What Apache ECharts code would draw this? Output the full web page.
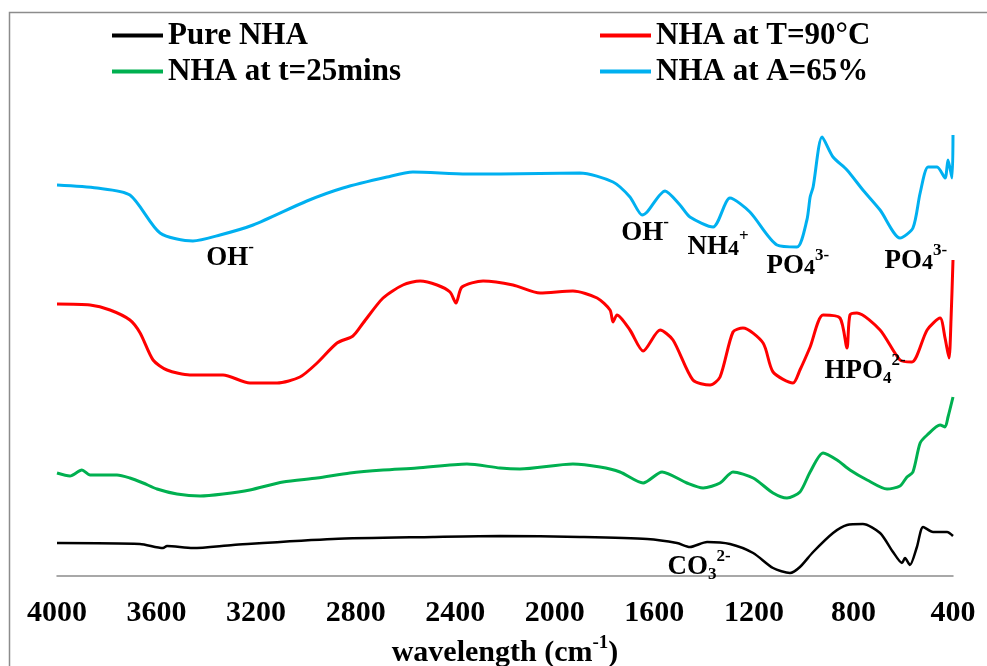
<!DOCTYPE html>
<html>
<head>
<meta charset="utf-8">
<script src="https://cdn.jsdelivr.net/npm/echarts@6/dist/echarts.min.js"></script>
<style>html,body{margin:0;padding:0;background:#fff;}#c{width:987px;height:666px;}</style>
</head>
<body>
<div id="c"></div>
<script>
// Wavenumbers (cm-1) and relative transmittance (arbitrary offset units)
const pureWn  = [4000,3667,3574,3558,3454,3293,2891,2489,2220,1899,1629,1509,1457,1388,1296,1203,1123,1055,1015,962,882,826,762,693,641,605,593,573,545,520,480,424,400];
const pureVal = [8.25,8,7,7.5,7,7.75,9.25,9.75,10,9.75,9.25,8.25,7.25,8.5,8,5.75,2,0.75,2.25,6,10.75,12.75,13,10.75,6,3.25,4.5,2.75,7.25,12.25,11,11,10];

const tempWn  = [4000,3867,3787,3707,3666,3614,3558,3466,3333,3225,3116,3024,2955,2875,2811,2770,2690,2610,2541,2473,2421,2397,2373,2288,2168,2059,1927,1830,1778,1766,1750,1698,1645,1577,1525,1445,1376,1336,1284,1244,1163,1123,1043,1015,974,922,854,826,814,786,693,613,565,504,452,432,416,408,400];
const tempVal = [68,67.75,66.5,64,60.75,54,51.5,50.25,50.25,48.25,48.25,49.75,53.25,58.25,60,63.25,69.5,72.75,73.75,72.75,71,68.25,72.25,73.75,72.75,70.75,71.25,69.5,66.5,63.5,65.25,61.5,56.25,61.5,59,49,47.75,49.75,61,62,58.25,51,48.25,51.5,57.25,65.25,64.5,57,65.25,65.75,61.5,54,53.5,61.5,64.5,59.5,54.5,64,79];

const timeWn  = [4000,3948,3900,3867,3759,3707,3654,3598,3518,3425,3333,3225,3092,2955,2823,2690,2554,2353,2220,2140,1927,1818,1738,1645,1569,1469,1404,1336,1284,1203,1123,1067,1015,974,922,866,814,745,665,613,585,561,532,504,452,432,420,400];
const timeVal = [25.75,25,26.5,25.25,25.25,24.5,23.25,21.75,20.5,20,20.5,21.5,23.5,24.5,25.75,26.5,27,28,27,26.75,28,27.25,26,23.25,26,23.25,22,23.25,26,24.5,20.75,19.5,21,26,30.75,29,26.5,24,21.75,22.5,24.75,26,33.25,35.25,37.75,37.25,39.75,44.75];

const acidWn  = [4000,3839,3707,3586,3454,3345,3212,2996,2851,2674,2570,2353,2220,1899,1766,1698,1649,1629,1557,1497,1457,1364,1296,1216,1107,1027,987,974,962,926,882,826,762,693,613,561,532,500,464,432,420,404,400];
const acidVal = [97.75,97,95.25,85.75,83.75,85.25,87.75,93.75,97,99.75,101,100.5,100.5,100.75,98.5,94.75,90.25,91,96.25,92.75,89.75,87.25,94.5,91,82.75,82.25,89,94.75,97.25,109.75,104.75,101.5,96.5,91.5,84.5,87,95.75,102.25,102.25,99.5,104,99.5,110.25];

const seriesNames = ['Pure NHA', 'NHA at T=90°C', 'NHA at t=25mins', 'NHA at A=65%'];
const xTicks = [4000, 3600, 3200, 2800, 2400, 2000, 1600, 1200, 800, 400];

// Band annotations
const noteWn   = [3305, 1637, 1344, 1023, 549, 753, 1420];
const noteVal  = [79.5, 85.75, 82.25, 77.5, 78.75, 51.25, 2.25];
const noteText = ['{b|OH}{sup|-}', '{b|OH}{sup|-}', '{b|NH}{m|4}{sup|+}', '{b|PO}{m|4}{sup|3-}', '{b|PO}{m|4}{sup|3-}', '{b|HPO}{sub|4}{sup|2-}', '{b|CO}{sub|3}{sup|2-}'];

const FONT = 'Liberation Serif';
const pairs = (w, v) => w.map((x, i) => [x, v[i]]);

const chart = echarts.init(document.getElementById('c'));
const lineSeries = (name, w, v, color, width) => ({
  name, type: 'line', data: pairs(w, v), showSymbol: false, symbol: 'none',
  smooth: 0.25, lineStyle: { color, width }, itemStyle: { color }, z: 3
});
const legendBase = {
  orient: 'vertical', icon: 'rect', itemWidth: 51, itemHeight: 4, itemGap: 5,
  textStyle: { fontFamily: FONT, fontWeight: 'bold', fontSize: 31, color: '#000', lineHeight: 30 },
  selectedMode: false
};
const txt = (size, extra) => Object.assign({ fontFamily: FONT, fontWeight: 'bold', fontSize: size, color: '#000', textBorderWidth: 0, opacity: 1 }, extra || {});
chart.setOption({
  animation: false,
  backgroundColor: '#fff',
  graphic: [{
    type: 'rect', shape: { x: 9.5, y: 12.5, width: 1000, height: 700 },
    style: { fill: 'none', stroke: '#8c8c8c', lineWidth: 1.5 }, silent: true, z: 0
  }],
  legend: [
    Object.assign({}, legendBase, { left: 107, top: 15, data: [seriesNames[0], seriesNames[2]] }),
    Object.assign({}, legendBase, { left: 595, top: 15, data: [seriesNames[1], seriesNames[3]] })
  ],
  grid: { left: 57, right: 34, top: 96, bottom: 90, outerBoundsMode: 'none', containLabel: false },
  xAxis: {
    type: 'value', inverse: true, min: 400, max: 4000, interval: 400,
    axisLine: { show: true, lineStyle: { color: '#8c8c8c', width: 1.5 } },
    axisTick: { show: false }, splitLine: { show: false },
    axisLabel: Object.assign(txt(30), { margin: 22, formatter: v => String(v), customValues: xTicks }),
    name: '{a|wavelength (cm}{s|-1}{a|)}', nameLocation: 'middle', nameGap: 58,
    nameTextStyle: {
      rich: {
        a: txt(30),
        s: txt(19, { padding: [0, 0, 20, 0] })
      }
    }
  },
  yAxis: { type: 'value', min: 0, max: 120, show: false, splitLine: { show: false } },
  series: [
    lineSeries(seriesNames[0], pureWn, pureVal, '#000000', 2.5),
    lineSeries(seriesNames[1], tempWn, tempVal, '#ff0000', 3),
    lineSeries(seriesNames[2], timeWn, timeVal, '#00b050', 3),
    lineSeries(seriesNames[3], acidWn, acidVal, '#00b0f0', 3),
    {
      name: 'notes', type: 'scatter', symbolSize: 0, silent: true, z: 5,
      itemStyle: { opacity: 1, color: '#000' },
      data: noteWn.map((w, i) => [w, noteVal[i], noteText[i]]),
      label: {
        show: true, position: 'inside', formatter: p => p.data[2],
        color: '#000', textBorderWidth: 0,
        rich: {
          b: txt(27),
          m: txt(22, { padding: [4, 0, 0, 0] }),
          sub: txt(17, { padding: [16, 0, 0, 0] }),
          sup: txt(17, { padding: [0, 0, 20, 0] })
        }
      }
    }
  ]
});
</script>
</body>
</html>
